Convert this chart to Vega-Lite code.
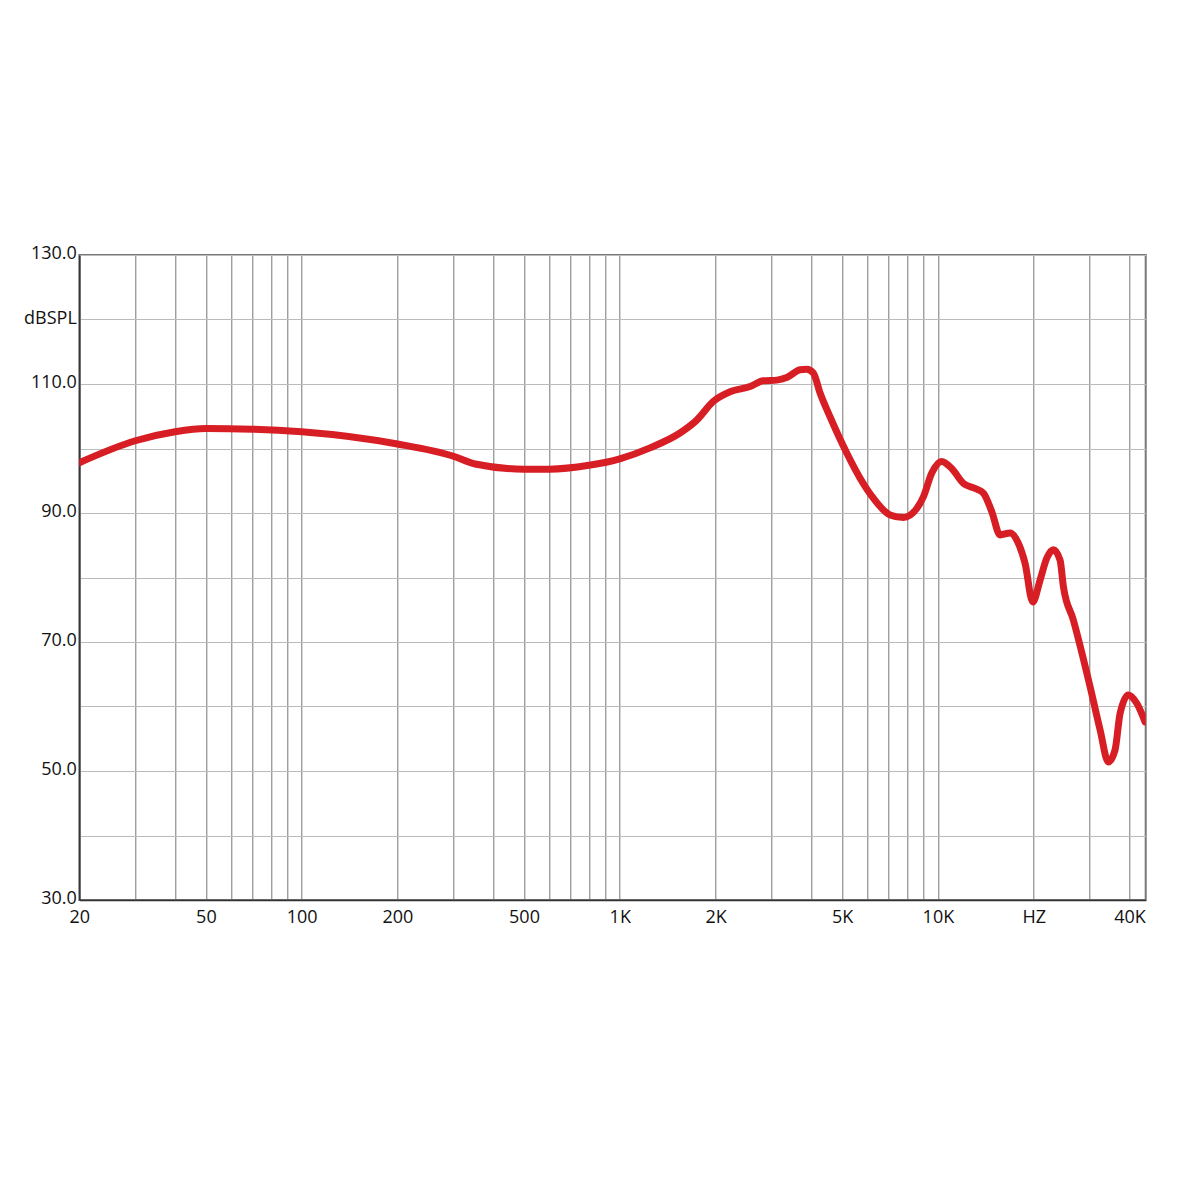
{
  "$schema": "https://vega.github.io/schema/vega-lite/v6.json",
  "autosize": {"type": "none"},
  "padding": {"left": 79.3, "top": 255, "right": 54.3, "bottom": 300},
  "width": 1066.4,
  "height": 645,
  "background": "white",
  "config": {
    "view": {"stroke": "#777", "strokeWidth": 2},
    "axis": {"labelFont": "Open Sans", "labelFontSize": 18, "labelColor": "#111", "ticks": false, "domainColor": "#333", "domainWidth": 1.5, "title": null}
  },
  "data": {"values": [
    {"f": 20, "db": 97.8},
    {"f": 30, "db": 101.2},
    {"f": 40, "db": 102.6},
    {"f": 50, "db": 103.1},
    {"f": 70, "db": 103.0},
    {"f": 100, "db": 102.6},
    {"f": 200, "db": 100.7},
    {"f": 300, "db": 98.8},
    {"f": 351, "db": 97.6},
    {"f": 500, "db": 96.8},
    {"f": 600, "db": 96.8},
    {"f": 800, "db": 97.4},
    {"f": 1000, "db": 98.4},
    {"f": 1245, "db": 100.1},
    {"f": 1546, "db": 102.4},
    {"f": 1746, "db": 104.4},
    {"f": 1968, "db": 107.3},
    {"f": 2222, "db": 108.8},
    {"f": 2568, "db": 109.6},
    {"f": 2826, "db": 110.5},
    {"f": 3116, "db": 110.6},
    {"f": 3348, "db": 111.0},
    {"f": 3688, "db": 112.2},
    {"f": 3870, "db": 112.3},
    {"f": 4060, "db": 111.7},
    {"f": 4262, "db": 108.6},
    {"f": 4582, "db": 104.9},
    {"f": 5170, "db": 99.3},
    {"f": 5694, "db": 95.4},
    {"f": 6268, "db": 92.3},
    {"f": 7074, "db": 89.7},
    {"f": 7788, "db": 89.3},
    {"f": 8580, "db": 90.7},
    {"f": 9002, "db": 92.5},
    {"f": 9566, "db": 96.2},
    {"f": 10282, "db": 98.0},
    {"f": 11054, "db": 96.9},
    {"f": 12024, "db": 94.6},
    {"f": 13088, "db": 93.8},
    {"f": 13900, "db": 93.1},
    {"f": 14770, "db": 90.2},
    {"f": 15686, "db": 86.6},
    {"f": 16860, "db": 86.9},
    {"f": 17900, "db": 85.3},
    {"f": 18794, "db": 82.2},
    {"f": 19872, "db": 76.2},
    {"f": 20948, "db": 79.6},
    {"f": 21992, "db": 83.0},
    {"f": 23066, "db": 84.3},
    {"f": 24212, "db": 82.7},
    {"f": 24800, "db": 78.6},
    {"f": 26660, "db": 73.4},
    {"f": 30080, "db": 63.1},
    {"f": 32340, "db": 56.4},
    {"f": 34340, "db": 51.4},
    {"f": 36060, "db": 53.3},
    {"f": 37380, "db": 58.9},
    {"f": 39700, "db": 61.8},
    {"f": 42180, "db": 60.5},
    {"f": 44800, "db": 57.6}
  ]},
  "mark": {"type": "line", "color": "#d81e25", "strokeWidth": 7, "interpolate": "monotone", "strokeCap": "round", "strokeJoin": "round", "clip": true},
  "encoding": {
    "x": {
      "field": "f", "type": "quantitative",
      "scale": {"type": "log", "domain": [20, 45000], "nice": false},
      "axis": {
        "values": [20,30,40,50,60,70,80,90,100,200,300,400,500,600,700,800,900,1000,2000,3000,4000,5000,6000,7000,8000,9000,10000,20000,30000,40000],
        "labelExpr": "datum.value==20?'20':datum.value==50?'50':datum.value==100?'100':datum.value==200?'200':datum.value==500?'500':datum.value==1000?'1K':datum.value==2000?'2K':datum.value==5000?'5K':datum.value==10000?'10K':datum.value==20000?'HZ':datum.value==40000?'40K':''",
        "labelPadding": 8,
        "labelOverlap": false,
        "labelFlush": false,
        "labelBound": false,
        "gridColor": "#777",
        "gridWidth": 1,
        "gridOpacity": 1
      }
    },
    "y": {
      "field": "db", "type": "quantitative",
      "scale": {"domain": [30, 130], "nice": false, "zero": false},
      "axis": {
        "values": [30,40,50,60,70,80,90,100,110,120,130],
        "labelExpr": "datum.value==120?'dBSPL':(datum.value%20==10?format(datum.value,'.1f'):'')",
        "labelPadding": 3,
        "labelOffset": -1.5,
        "labelOverlap": false,
        "labelFlush": false,
        "labelBaseline": "middle",
        "gridColor": "#bbb",
        "gridWidth": 1,
        "gridOpacity": 1
      }
    }
  }
}
